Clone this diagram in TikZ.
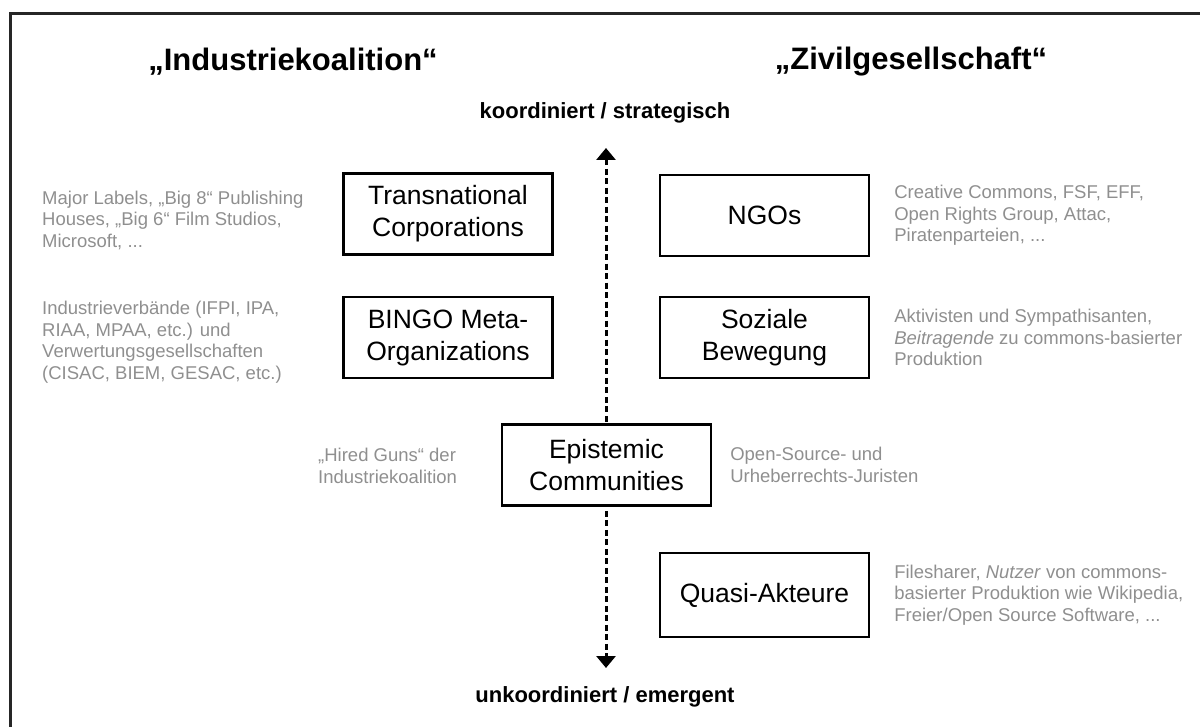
\documentclass[tikz,border=0pt]{standalone}
\usepackage{fontspec}
\setmainfont{Liberation Sans}
\usetikzlibrary{arrows.meta, positioning}
\definecolor{notegray}{HTML}{8F8F8F}
\tikzset{
  actor/.style={draw, line width=2.2pt, fill=white, minimum width=209pt, minimum height=81pt, align=center, inner sep=0pt, font=\fontsize{26.5}{32}\selectfont},
  note/.style={text=notegray, align=left, anchor=west, inner sep=0pt, font=\fontsize{18.5}{21.5}\selectfont},
  camp/.style={font=\fontsize{31}{36}\selectfont\bfseries},
  axislabel/.style={font=\fontsize{22}{26}\selectfont\bfseries},
}

\begin{document}
\begin{tikzpicture}[x=1pt, y=-1pt]
    \useasboundingbox (0,0) rectangle (1200,727);
    \draw[line width=3pt, black!85] (10,14) rectangle (1215,745);

    \node[camp] (ind) at (293,62) {„Industriekoalition“};
    \node[camp] (ziv) at (911,62) {„Zivilgesellschaft“};

    \node[axislabel] (koord) at (605,113) {koordiniert / strategisch};
    \node[axislabel] (unkoord) at (605,697) {unkoordiniert / emergent};

    % Achse
    \coordinate (up) at (606,148);
    \coordinate (down) at (606,668);
    \draw[line width=3pt, dash pattern=on 6pt off 3.5pt, {Triangle[width=19pt, length=12pt]}-{Triangle[width=19pt, length=12pt]}] (up) -- (down);

    \node[actor] (tnc) at (448,214) {Transnational\\Corporations};
    \node[actor] (bingo) at (448,337.5) {BINGO Meta-\\Organizations};
    \node[actor] (ngo) at (764.5,215.5) {NGOs};
    \node[actor] (soz) at (764.5,337.5) {Soziale\\Bewegung};
    \node[actor] (epi) at (606.5,465) {Epistemic\\Communities};
    \node[actor, minimum height=84pt] (quasi) at (764.5,595) {Quasi-Akteure};

    % Beispiele
    \node[note] (majors) at (42,220) {Major Labels, „Big 8“ Publishing\\Houses, „Big 6“ Film Studios,\\Microsoft, ...};
    \node[note] (verb) at (42,342) {Industrieverbände (IFPI, IPA,\\RIAA, MPAA, etc.) und\\Verwertungsgesellschaften\\(CISAC, BIEM, GESAC, etc.)};
    \node[note] (guns) at (318,466) {„Hired Guns“ der\\Industriekoalition};
    \node[note, right=24pt of ngo] (ngonote) {Creative Commons, FSF, EFF,\\Open Rights Group, Attac,\\Piratenparteien, ...};
    \node[note, right=24pt of soz] (soznote) {Aktivisten und Sympathisanten,\\\textit{Beitragende} zu commons-basierter\\Produktion};
    \node[note, right=18pt of epi] (juristen) {Open-Source- und\\Urheberrechts-Juristen};
    \node[note, right=24pt of quasi] (quasinote) {Filesharer, \textit{Nutzer} von commons-\\basierter Produktion wie Wikipedia,\\Freier/Open Source Software, ...};
\end{tikzpicture}
\end{document}
